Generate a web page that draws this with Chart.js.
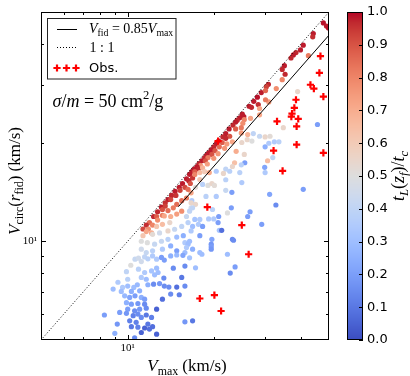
<!DOCTYPE html>
<html>
<head>
<meta charset="utf-8">
<script src="https://cdn.jsdelivr.net/npm/chart.js@4.4.0/dist/chart.umd.min.js"></script>
<style>
  html, body { margin: 0; padding: 0; background: #fff; }
  #c { display: block; }
</style>
</head>
<body>
<canvas id="c" width="410" height="376"></canvas>
<script>
// simulated haloes: Vmax (km/s), Vcirc(r_fid) (km/s), t_L(z_f)/t_c
const vmax = [
  47.8, 49.0, 49.8, 44.1, 43.9, 40.7, 39.8, 38.4, 42.4, 37.6,
  36.9, 35.0, 35.2, 34.4, 30.8, 30.3, 32.8, 29.1, 30.1, 28.2,
  27.4, 30.9, 26.4, 26.9, 28.4, 28.7, 38.9, 34.4, 30.1, 25.3,
  24.5, 24.0, 25.4, 26.7, 28.7, 25.0, 23.7, 23.2, 22.5, 23.7,
  25.1, 24.8, 24.8, 26.1, 21.9, 21.4, 22.6, 21.9, 20.7, 21.3,
  22.1, 23.1, 20.3, 19.9, 20.8, 21.7, 19.5, 20.1, 19.1, 20.6,
  19.6, 18.8, 18.5, 19.0, 19.9, 18.1, 18.6, 17.7, 17.9, 18.9,
  17.4, 17.6, 17.0, 18.2, 16.7, 17.1, 17.8, 16.4, 23.8, 25.4,
  23.5, 27.3, 26.0, 27.0, 24.9, 28.7, 30.0, 31.2, 32.3, 30.0,
  34.7, 45.6, 33.5, 30.9, 31.9, 30.6, 30.0, 29.9, 25.5, 24.8,
  23.1, 22.6, 21.9, 20.3, 24.9, 40.7, 31.1, 32.7, 21.5, 21.9,
  24.5, 18.2, 19.0, 19.6, 20.0, 17.2, 23.0, 20.3, 16.7, 17.2,
  16.6, 19.7, 22.9, 26.6, 26.1, 22.2, 20.7, 19.9, 19.1, 20.6,
  17.8, 17.1, 17.6, 16.8, 18.2, 20.8, 21.2, 29.2, 17.8, 19.6,
  23.1, 16.6, 18.7, 21.9, 23.3, 15.8, 16.2, 16.0, 15.8, 16.4,
  17.8, 18.1, 19.5, 19.5, 19.5, 22.2, 23.6, 22.7, 17.2, 15.8,
  15.8, 16.0, 16.3, 15.5, 15.1, 14.6, 14.2, 13.8, 13.5, 13.1,
  12.7, 13.2, 13.5, 14.1, 14.7, 15.2, 15.8, 16.5, 16.8, 12.3,
  11.9, 12.6, 13.2, 13.8, 14.4, 14.8, 15.4, 16.0, 16.6, 16.2,
  11.6, 11.3, 11.8, 12.2, 12.7, 13.4, 14.1, 14.8, 15.4, 11.6,
  12.1, 12.6, 13.2, 14.0, 11.3, 12.2, 12.9, 13.8, 14.55, 15.4,
  16.2, 16.4, 16.0, 16.8, 16.6, 11.15, 11.7, 12.4, 13.1, 13.8,
  14.8, 15.6, 11.15, 11.6, 12.2, 13.2, 14.1, 14.8, 16.4, 16.8,
  18.5, 19.2, 17.1, 17.8, 10.6, 10.9, 11.45, 11.75, 10.25, 11.15,
  12.2, 12.6, 13.1, 13.4, 14.1, 14.8, 15.55, 9.9, 10.9, 11.45,
  12.1, 12.6, 12.75, 14.4, 15.8, 11.15, 11.6, 12.4, 13.35, 12.9,
  12.3, 11.75, 13.4, 13.9, 14.8, 15.1, 14.1, 13.2, 9.6, 10.0,
  10.5, 10.8, 9.5, 10.3, 11.0, 9.76, 10.16, 10.6, 11.15, 11.45,
  9.9, 10.3, 10.85, 11.45, 10.0, 10.57, 11.0, 11.6, 12.6, 9.38,
  9.9, 10.85, 10.45, 11.15, 11.6, 12.1, 8.3, 9.2, 10.16, 10.7,
  11.75, 10.3, 10.85, 11.45, 12.2, 11.15, 12.6, 9.02, 10.57, 9.25,
  8.9, 10.0, 15.4, 16.8, 11.9
];
const vcirc = [
  46.3, 45.3, 44.7, 43.0, 42.0, 39.6, 38.3, 37.6, 36.8, 37.0,
  36.2, 34.3, 32.3, 31.1, 30.1, 29.6, 29.2, 28.4, 28.8, 27.5,
  26.7, 26.6, 25.8, 25.6, 26.1, 25.4, 28.6, 33.4, 27.0, 24.0,
  23.8, 23.4, 23.5, 23.7, 24.3, 24.4, 23.1, 22.6, 22.0, 22.0,
  22.9, 22.2, 21.4, 21.15, 21.3, 20.8, 20.9, 20.6, 20.2, 20.0,
  19.8, 20.1, 19.8, 19.4, 19.4, 19.2, 19.0, 18.9, 18.6, 18.5,
  18.4, 18.3, 18.0, 18.0, 17.9, 17.6, 17.6, 17.25, 17.0, 17.2,
  16.9, 16.6, 16.6, 16.75, 16.3, 16.3, 16.2, 16.0, 18.8, 18.4,
  17.35, 21.3, 20.4, 20.2, 20.0, 20.9, 20.8, 20.9, 20.1, 19.4,
  22.2, 22.7, 20.1, 19.9, 18.0, 17.6, 16.2, 16.8, 17.35, 17.1,
  16.9, 16.35, 16.6, 16.35, 15.1, 14.4, 13.9, 12.9, 16.1, 15.4,
  16.2, 14.9, 14.8, 15.0, 14.8, 14.6, 14.1, 13.7, 13.3, 12.96,
  12.65, 12.5, 12.65, 12.3, 11.9, 12.2, 11.9, 11.7, 11.7, 11.4,
  11.66, 11.66, 11.26, 11.1, 11.1, 10.8, 10.8, 11.26, 10.4, 10.14,
  10.14, 10.75, 13.7, 14.3, 10.07, 9.9, 9.8, 9.57, 9.24, 8.9,
  9.24, 9.13, 9.8, 9.63, 9.46, 9.13, 8.35, 8.0, 8.3, 7.3,
  5.68, 15.5, 15.3, 15.0, 14.6, 14.2, 13.8, 13.4, 13.1, 12.7,
  12.3, 12.5, 12.8, 13.4, 13.8, 14.3, 14.6, 15.0, 15.6, 11.9,
  11.4, 11.9, 12.0, 12.4, 12.65, 12.96, 13.3, 13.55, 14.05, 14.4,
  11.2, 10.9, 10.9, 11.2, 11.6, 11.95, 11.9, 12.1, 12.35, 10.7,
  10.6, 11.1, 11.26, 11.4, 10.4, 10.5, 10.6, 10.75, 10.88, 11.1,
  11.4, 12.35, 11.9, 12.65, 13.1, 10.0, 9.9, 9.8, 10.0, 10.14,
  10.3, 10.4, 9.46, 9.24, 9.35, 9.46, 9.68, 9.35, 10.0, 9.46,
  16.3, 16.2, 15.98, 15.43, 8.82, 8.88, 8.96, 8.84, 8.45, 8.67,
  9.02, 8.82, 8.93, 8.76, 9.02, 9.08, 9.06, 8.08, 8.22, 8.03,
  8.12, 8.28, 8.03, 8.28, 8.4, 7.76, 7.66, 7.9, 7.72, 7.43,
  7.4, 7.37, 7.3, 7.25, 7.25, 6.87, 6.9, 6.66, 7.23, 7.3,
  7.23, 7.37, 7.03, 7.03, 7.06, 6.82, 6.74, 6.82, 6.74, 6.66,
  6.5, 6.43, 6.46, 6.43, 6.21, 6.14, 6.21, 6.25, 6.21, 6.07,
  6.03, 6.0, 5.93, 5.86, 5.96, 5.86, 5.96, 5.59, 5.72, 5.66,
  5.59, 5.49, 5.47, 5.44, 5.49, 5.27, 5.21, 5.24, 5.08, 7.5,
  7.15, 7.66, 7.76, 5.72, 5.4
];
const tform = [
  .99, .98, .99, .98, .96, .98, .98, .97, .82, .98,
  .97, .98, .97, .80, .97, .93, .78, .98, .86, .99,
  .98, .74, .98, .97, .96, .72, .55, .97, .82, .98,
  .98, .97, .80, .73, .72, .98, .98, .97, .98, .88,
  .78, .82, .75, .68, .98, .97, .90, .97, .98, .88,
  .75, .72, .98, .97, .85, .76, .98, .90, .98, .76,
  .90, .98, .97, .82, .76, .98, .90, .97, .76, .74,
  .98, .97, .98, .68, .98, .88, .66, .98, .70, .55,
  .64, .40, .55, .50, .55, .42, .55, .52, .35, .25,
  .55, .20, .38, .35, .40, .65, .35, .22, .20, .38,
  .55, .38, .40, .35, .35, .20, .22, .15, .55, .38,
  .38, .38, .50, .55, .52, .52, .20, .35, .35, .55,
  .45, .38, .20, .20, .20, .50, .20, .35, .35, .20,
  .35, .32, .35, .30, .20, .32, .08, .20, .20, .22,
  .15, .35, .38, .42, .15, .35, .30, .35, .30, .32,
  .30, .30, .18, .20, .18, .30, .20, .15, .30, .15,
  .18, .98, .97, .98, .98, .98, .97, .98, .96, .98,
  .97, .90, .93, .92, .95, .93, .92, .90, .95, .97,
  .85, .88, .82, .85, .82, .85, .85, .82, .72, .85,
  .96, .92, .78, .80, .78, .72, .70, .74, .78, .72,
  .70, .62, .65, .55, .62, .52, .45, .55, .42, .40,
  .38, .40, .42, .40, .55, .50, .50, .42, .42, .38,
  .30, .25, .45, .42, .38, .35, .25, .20, .30, .25,
  .60, .72, .80, .62, .42, .45, .40, .38, .50, .45,
  .35, .35, .20, .20, .25, .28, .22, .40, .38, .35,
  .32, .30, .30, .15, .15, .35, .30, .30, .15, .18,
  .15, .25, .15, .15, .08, .12, .15, .08, .35, .30,
  .30, .28, .30, .25, .25, .28, .22, .20, .25, .20,
  .25, .20, .18, .15, .20, .15, .18, .15, .05, .20,
  .18, .15, .12, .15, .10, .12, .20, .18, .12, .12,
  .10, .10, .12, .05, .08, .05, .05, .25, .15, .35,
  .30, .38, .10, .10, .08
];

// observed galaxies
const obsVmax = [46.7, 46.3, 43.1, 44.3, 47.8, 38.4, 37.9, 37.2, 37.0, 39.1, 33.0, 38.6,
                 38.6, 32.1, 47.8, 34.5, 18.9, 24.9, 26.3, 17.8, 20.0, 21.1, 20.6];
const obsVcirc = [36.7, 32.6, 30.0, 29.2, 27.6, 27.0, 25.5, 24.5, 24.0, 23.6, 23.2, 22.4,
                  19.7, 18.9, 18.6, 16.4, 12.7, 11.2, 9.13, 6.69, 6.85, 6.13, 20.2];

// reference lines
const fidVmax = [15, 50];
const fidVcirc = [12.75, 42.5];
const oneVmax = [5, 50];
const oneVcirc = [5, 50];

// ticks
const logTicks = [6, 7, 8, 9, 10, 20, 30, 40];
const cbTicks = [0, 0.1, 0.2, 0.3, 0.4, 0.5, 0.6, 0.7, 0.8, 0.9, 1.0];

// coolwarm colormap
const coolwarm = [
  [59,76,192],[68,90,204],[77,104,215],[87,117,225],[98,130,234],[108,142,241],
  [119,154,247],[130,165,251],[141,176,254],[152,185,255],[163,194,255],[174,201,253],
  [184,208,249],[194,213,244],[204,217,238],[213,219,230],[221,221,221],[229,216,209],
  [236,211,197],[241,204,185],[245,196,173],[247,187,160],[247,177,148],[247,166,135],
  [244,154,123],[241,141,111],[236,127,99],[229,112,88],[222,96,77],[213,80,66],
  [203,62,56],[192,40,47],[180,4,38]
];
function cmap(v) {
  const t = Math.min(Math.max(v, 0), 1) * 32;
  const i = Math.min(Math.floor(t), 31), f = t - i;
  const a = coolwarm[i], b = coolwarm[i + 1];
  const c = [0, 1, 2].map(k => Math.round(a[k] + (b[k] - a[k]) * f));
  return 'rgb(' + c.join(',') + ')';
}

const SERIF = '"Liberation Serif", "DejaVu Serif", serif';
const SANS = '"DejaVu Sans", sans-serif';

// draws a little math string: i italic, r roman, b roman subscript, bi italic subscript, p superscript
function mathText(ctx, parts, x, y, size, align) {
  const font = s => {
    const small = s === 'b' || s === 'bi' || s === 'p';
    const it = s === 'i' || s === 'bi';
    return (it ? 'italic ' : '') + (small ? size * 0.7 : size) + 'px ' + SERIF;
  };
  let w = 0;
  parts.forEach(p => { ctx.font = font(p[1]); w += ctx.measureText(p[0]).width; });
  let cx = align === 'center' ? x - w / 2 : x;
  ctx.textAlign = 'left';
  ctx.textBaseline = 'alphabetic';
  parts.forEach(p => {
    ctx.font = font(p[1]);
    const dy = (p[1] === 'b' || p[1] === 'bi') ? size * 0.22 : (p[1] === 'p' ? -size * 0.4 : 0);
    ctx.fillText(p[0], cx, y + dy);
    cx += ctx.measureText(p[0]).width;
  });
}

function plus(ctx, x, y, r) {
  ctx.beginPath();
  ctx.moveTo(x - r, y); ctx.lineTo(x + r, y);
  ctx.moveTo(x, y - r); ctx.lineTo(x, y + r);
  ctx.stroke();
}

const decor = {
  id: 'decor',
  afterDraw(chart) {
    const ctx = chart.ctx, a = chart.chartArea;
    const sx = chart.scales.x, sy = chart.scales.y, cb = chart.scales.cb;
    ctx.save();
    ctx.strokeStyle = '#000';
    ctx.fillStyle = '#000';
    ctx.lineWidth = 1;

    // frame
    ctx.strokeRect(a.left + 0.5, a.top + 0.5, a.right - a.left - 1, a.bottom - a.top - 1);

    // inward ticks on all four sides
    ctx.beginPath();
    logTicks.forEach(v => {
      const len = v === 10 ? 5 : 3;
      const px = Math.round(sx.getPixelForValue(v)) + 0.5;
      ctx.moveTo(px, a.bottom); ctx.lineTo(px, a.bottom - len);
      ctx.moveTo(px, a.top); ctx.lineTo(px, a.top + len);
      const py = Math.round(sy.getPixelForValue(v)) + 0.5;
      ctx.moveTo(a.left, py); ctx.lineTo(a.left + len, py);
      ctx.moveTo(a.right, py); ctx.lineTo(a.right - len, py);
    });
    ctx.stroke();

    // colorbar
    const cbx = a.right + 18, cbw = 16;
    const top = Math.round(cb.getPixelForValue(1)), bot = Math.round(cb.getPixelForValue(0));
    for (let py = top; py < bot; py++) {
      ctx.fillStyle = cmap(cb.getValueForPixel(py + 0.5));
      ctx.fillRect(cbx, py, cbw, 1);
    }
    ctx.strokeRect(cbx + 0.5, top + 0.5, cbw - 1, bot - top - 1);
    ctx.beginPath();
    cbTicks.forEach(v => {
      const py = Math.round(cb.getPixelForValue(v)) + 0.5;
      ctx.moveTo(cbx + cbw, py); ctx.lineTo(cbx + cbw - 4, py);
    });
    ctx.stroke();
    ctx.fillStyle = '#000';

    // legend
    ctx.fillStyle = '#fff';
    ctx.fillRect(48, 18, 128, 61);
    ctx.strokeStyle = '#222';
    ctx.strokeRect(47.5, 18.5, 128.5, 60.5);
    ctx.strokeStyle = '#000';
    ctx.fillStyle = '#000';
    ctx.beginPath(); ctx.moveTo(57, 29.5); ctx.lineTo(77, 29.5); ctx.stroke();
    ctx.setLineDash([1, 2]);
    ctx.beginPath(); ctx.moveTo(57, 47.5); ctx.lineTo(77, 47.5); ctx.stroke();
    ctx.setLineDash([]);
    ctx.strokeStyle = '#ff0000';
    ctx.lineWidth = 2.2;
    [57, 66.5, 76].forEach(x => plus(ctx, x, 68, 3.6));
    ctx.lineWidth = 1;
    ctx.strokeStyle = '#000';
    mathText(ctx, [['V', 'i'], ['fid', 'b'], [' = 0.85', 'r'], ['V', 'i'], ['max', 'b']], 89, 33, 14, 'left');
    mathText(ctx, [['1 : 1', 'r']], 89.5, 51.5, 14, 'left');
    ctx.font = '13px ' + SANS;
    ctx.textBaseline = 'alphabetic';
    ctx.fillText('Obs.', 89, 72);

    // annotation
    mathText(ctx, [['σ', 'i'], ['/', 'r'], ['m', 'i'], [' = 50 cm', 'r'], ['2', 'p'], ['/g', 'r']], 52.5, 106.5, 18, 'left');

    // axis titles
    mathText(ctx, [['V', 'i'], ['max', 'b'], [' (km/s)', 'r']], 187, 371, 17, 'center');
    ctx.save();
    ctx.translate(19.5, 181);
    ctx.rotate(-Math.PI / 2);
    mathText(ctx, [['V', 'i'], ['circ', 'b'], ['(', 'r'], ['r', 'i'], ['fid', 'b'], [')', 'r'], [' (km/s)', 'r']], 0, 0, 17, 'center');
    ctx.restore();
    ctx.save();
    ctx.translate(404, 176);
    ctx.rotate(-Math.PI / 2);
    mathText(ctx, [['t', 'i'], ['L', 'bi'], ['(', 'r'], ['z', 'i'], ['f', 'bi'], [')/', 'r'], ['t', 'i'], ['c', 'bi']], 0, 0, 18, 'center');
    ctx.restore();

    ctx.restore();
  }
};

// chart area is fixed by the axis sizes, so the label overhang padding is dropped
function noPad(s) {
  s.paddingTop = 0; s.paddingBottom = 0; s.paddingLeft = 0; s.paddingRight = 0;
}

const logAxis = () => ({
  type: 'logarithmic',
  min: 5,
  max: 50,
  grid: { display: false, drawTicks: false },
  border: { display: false },
  afterBuildTicks: s => { s.ticks = logTicks.map(v => ({ value: v })); },
  ticks: {
    autoSkip: false,
    maxRotation: 0,
    color: '#000',
    font: { family: SERIF, size: 11 },
    callback: v => (v === 10 ? '10¹' : '')
  }
});

const xAxis = logAxis();
xAxis.position = 'bottom';
xAxis.ticks.padding = 2;
xAxis.afterFit = s => { s.height = 36; noPad(s); };
const yAxis = logAxis();
yAxis.position = 'left';
yAxis.ticks.padding = 4;
yAxis.afterFit = s => { s.width = 41; noPad(s); };

const ctx = document.getElementById('c').getContext('2d');
const chart = new Chart(ctx, {
  type: 'scatter',
  data: {
    datasets: [{
      label: 'sims',
      data: vmax.map((x, i) => ({ x: x, y: vcirc[i] })),
      backgroundColor: tform.map(cmap),
      pointRadius: 2.6,
      pointHoverRadius: 2.6,
      borderWidth: 0,
      order: 3
    }, {
      label: 'fid',
      data: fidVmax.map((x, i) => ({ x: x, y: fidVcirc[i] })),
      showLine: true,
      borderColor: '#000',
      borderWidth: 1,
      pointRadius: 0,
      order: 2
    }, {
      label: '1:1',
      data: oneVmax.map((x, i) => ({ x: x, y: oneVcirc[i] })),
      showLine: true,
      borderColor: '#000',
      borderWidth: 1,
      borderDash: [1, 2],
      pointRadius: 0,
      order: 1
    }, {
      label: 'Obs.',
      data: obsVmax.map((x, i) => ({ x: x, y: obsVcirc[i] })),
      pointStyle: 'cross',
      pointRadius: 3.6,
      pointHoverRadius: 3.6,
      borderColor: '#ff0000',
      backgroundColor: '#ff0000',
      borderWidth: 2.2,
      order: 0
    }]
  },
  options: {
    responsive: false,
    animation: false,
    layout: { padding: { top: 12, right: 0, bottom: 0, left: 0 } },
    plugins: { legend: { display: false }, tooltip: { enabled: false } },
    scales: {
      x: xAxis,
      y: yAxis,
      cb: {
        type: 'linear',
        position: 'right',
        min: 0,
        max: 1,
        grid: { display: false, drawTicks: false },
        border: { display: false },
        afterBuildTicks: s => { s.ticks = cbTicks.map(v => ({ value: v })); },
        afterFit: s => { s.width = 81; noPad(s); },
        ticks: {
          padding: 38,
          color: '#000',
          font: { family: SANS, size: 13 },
          callback: v => v.toFixed(1)
        }
      }
    }
  },
  plugins: [decor]
});
</script>
</body>
</html>
